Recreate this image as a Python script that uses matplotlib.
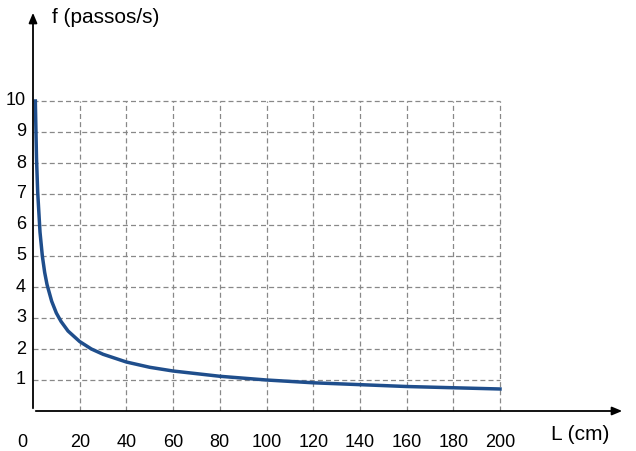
import matplotlib
matplotlib.use("Agg")
import matplotlib.pyplot as plt

L_cm = [1, 1.5, 2, 3, 4, 5, 6, 8, 10, 12, 15, 20, 25, 30, 40, 50, 60, 80, 100, 120, 140, 160, 180, 200]
f_pps = [10, 8.16, 7.07, 5.77, 5.0, 4.47, 4.08, 3.54, 3.16, 2.89, 2.58, 2.24, 2.0, 1.83, 1.58, 1.41, 1.29, 1.12, 1.0, 0.91, 0.85, 0.79, 0.75, 0.71]
x_ticks = list(range(0, 201, 20))
y_ticks = list(range(1, 11))

plt.rcParams["font.family"] = "Liberation Sans"
W, H = 636, 451
fig = plt.figure(figsize=(W/100, H/100), dpi=100)
x0, y0, x1, y1 = 33, 411, 625, 10
ax = fig.add_axes([x0/W, (H-y0)/H, (x1-x0)/W, (y0-y1)/H])
xmax = (x1-x0)/2.335
ymax = (y0-y1)/31.0
ax.set_xlim(0, xmax); ax.set_ylim(0, ymax)
for s in ax.spines.values(): s.set_visible(False)
ax.set_xticks([]); ax.set_yticks([])

for xv in x_ticks[1:]:
    ax.plot([xv, xv], [0, 10], ls=(0, (4, 2.5)), color="#888888", lw=0.9)
for yv in y_ticks:
    ax.plot([0, 200], [yv, yv], ls=(0, (4, 2.5)), color="#888888", lw=0.9)

ax.plot(L_cm, f_pps, color="#1f4e8c", lw=2.5, zorder=3)

ax.annotate("", xy=(xmax, 0), xytext=(0, 0), xycoords="data",
            arrowprops=dict(arrowstyle="-|>,head_length=0.6,head_width=0.25", color="black", lw=1.3), annotation_clip=False)
ax.annotate("", xy=(0, ymax), xytext=(0, 0), xycoords="data",
            arrowprops=dict(arrowstyle="-|>,head_length=0.6,head_width=0.25", color="black", lw=1.3), annotation_clip=False)

for xv in x_ticks:
    xp = xv if xv else -4.5
    ax.text(xp, -0.75, str(xv), ha="center", va="top", fontsize=13)
for yv in y_ticks:
    ax.text(-3, yv, str(yv), ha="right", va="center", fontsize=13)
ax.text(8, ymax - 0.25, "f (passos/s)", ha="left", va="center", fontsize=15)
ax.text(222, -0.75, "L (cm)", ha="left", va="center", fontsize=15)

fig.savefig("out.png", dpi=100)
